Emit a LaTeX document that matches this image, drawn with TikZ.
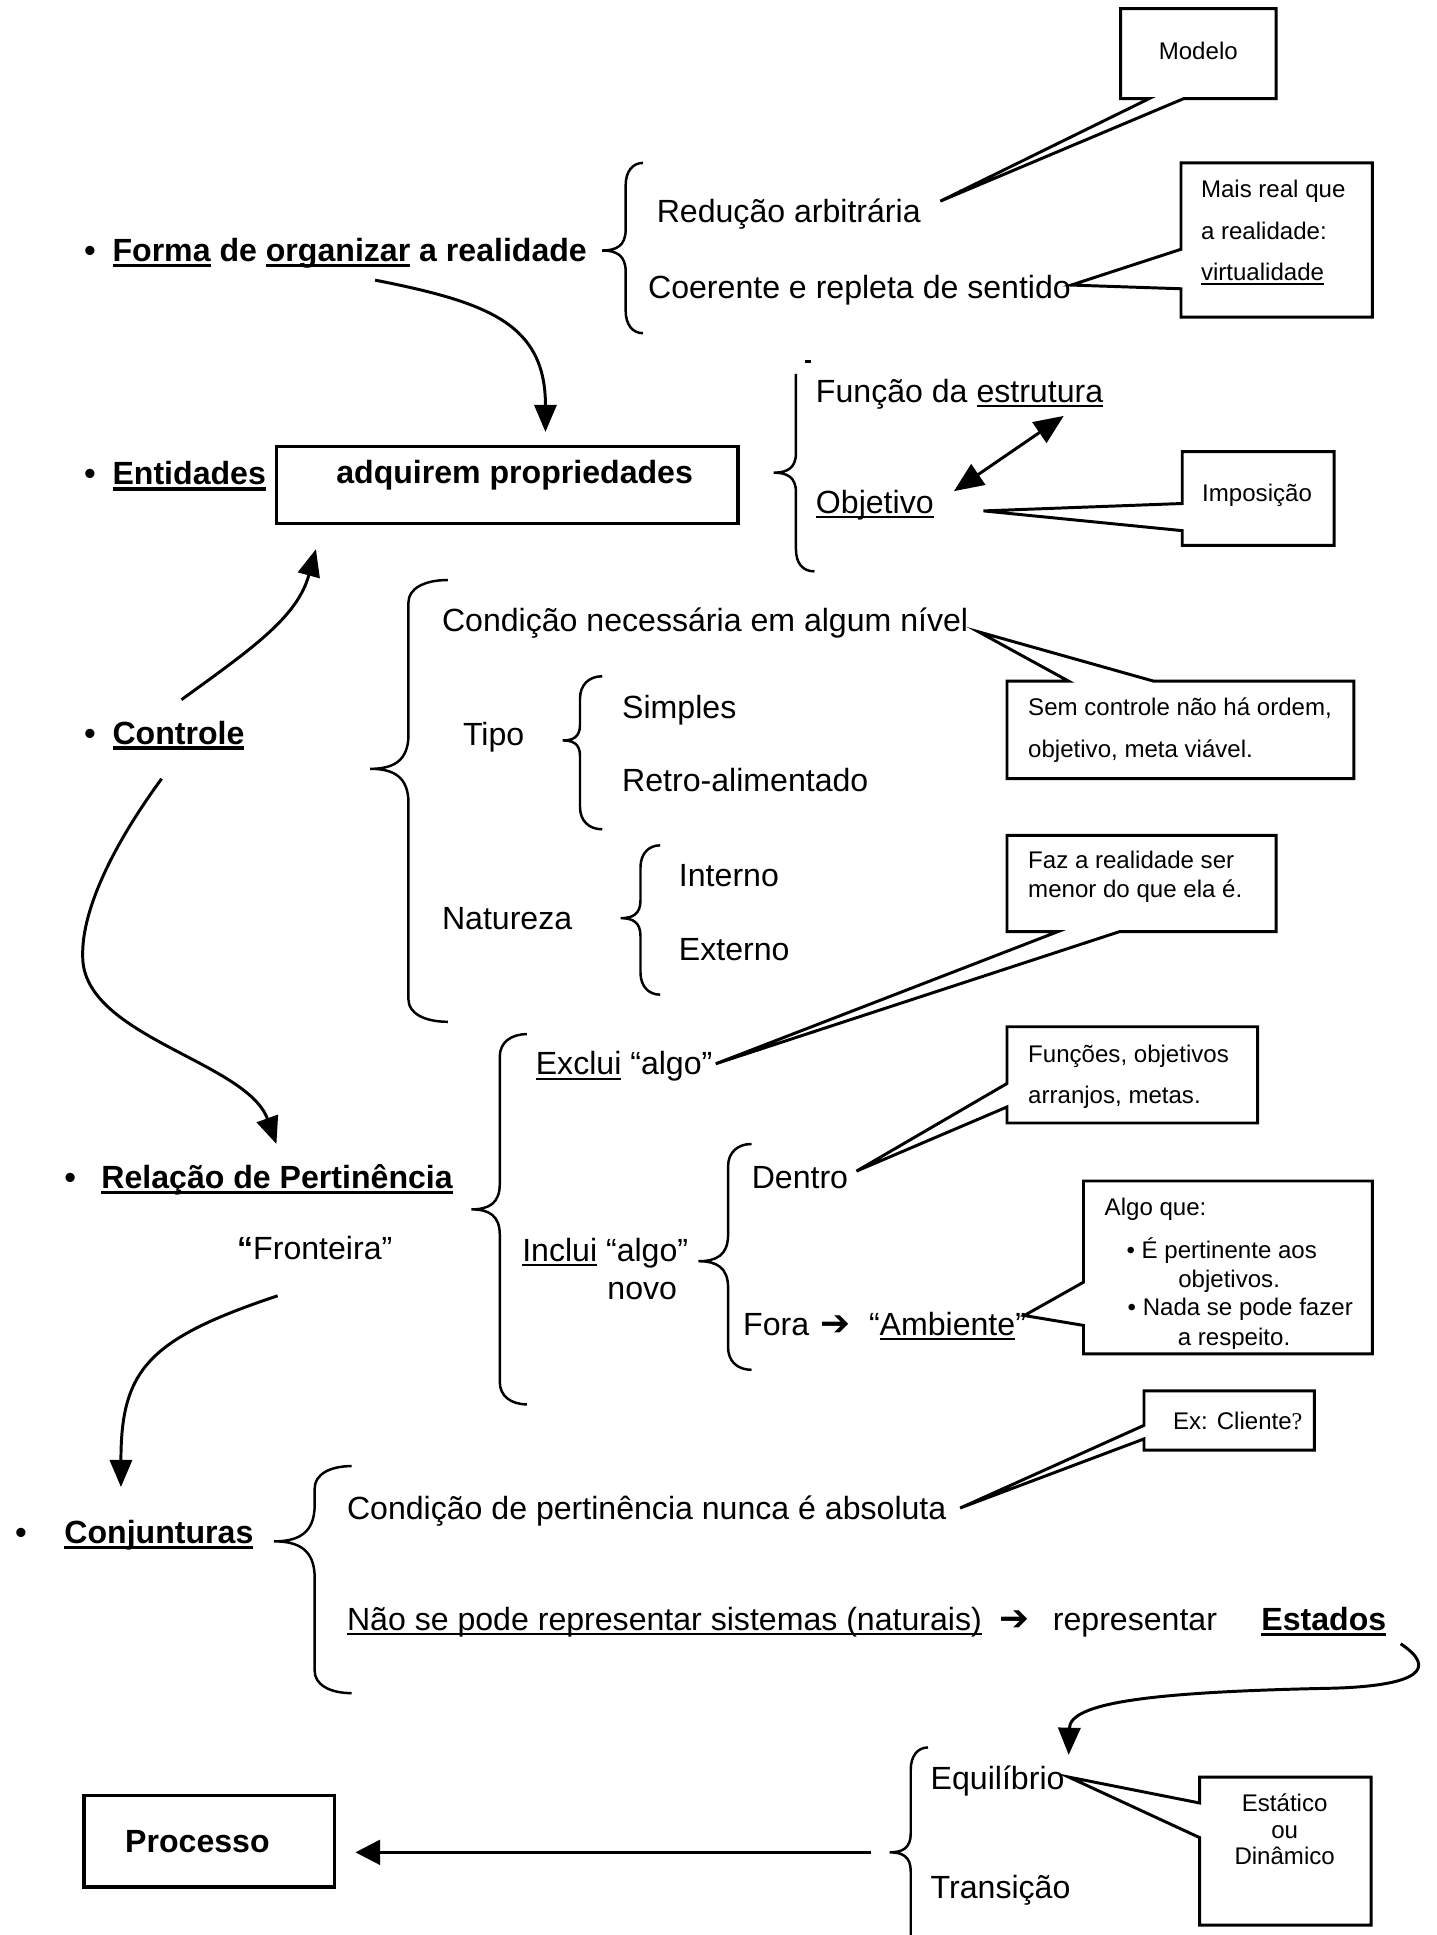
\documentclass[tikz,border=0pt]{standalone}
\usepackage{fontspec}
\setmainfont{Liberation Sans}
\newfontfamily\symfont{DejaVu Sans}
\newfontfamily\seriffont{Liberation Serif}
\usetikzlibrary{arrows.meta}

% underlines drawn as rules below the text
\newsavebox\ulbox
\newcommand\undl[1]{\sbox\ulbox{#1}\rlap{\rule[-4pt]{\wd\ulbox}{1.6pt}}\usebox\ulbox}
\newcommand\undlb[1]{\sbox\ulbox{#1}\rlap{\rule[-4.5pt]{\wd\ulbox}{2.6pt}}\usebox\ulbox}

% left curly brace: #1 x of the stem, #2 top y, #3 tip y, #4 bottom y, #5 tip x, #6 hook end x
\newcommand\drawbrace[6]{%
  \draw[brace] (#6,#2) .. controls ({#1+0.4*(#6-#1)},#2) and (#1,{#2+7}) .. (#1,{#2+18})
    -- (#1,{#3-0.9*(#1-#5)}) .. controls (#1,{#3-0.2*(#1-#5)}) and ({#1-0.4*(#1-#5)},#3) .. (#5,#3)
    .. controls ({#1-0.4*(#1-#5)},#3) and (#1,{#3+0.2*(#1-#5)}) .. (#1,{#3+0.9*(#1-#5)})
    -- (#1,{#4-18}) .. controls (#1,{#4-7}) and ({#1+0.4*(#6-#1)},#4) .. (#6,#4);}

\tikzset{
  txt/.style={anchor=base west, inner sep=0pt, font=\fontsize{26}{30}\selectfont},
  btxt/.style={anchor=base west, inner sep=0pt, font=\fontsize{26}{30}\selectfont\bfseries},
  stxt/.style={anchor=base west, inner sep=0pt, font=\fontsize{19.5}{23}\selectfont},
  symtxt/.style={anchor=base west, inner sep=0pt, font=\symfont\fontsize{29}{32}\selectfont},
  callout/.style={draw, line width=2.4pt, fill=white},
  brace/.style={line width=2pt},
  arr/.style={line width=2.4pt, -{Triangle[length=22pt,width=18pt]}},
  framebox/.style={draw, line width=2.6pt, inner sep=0pt},
}

\begin{document}
\begin{tikzpicture}[x=1pt, y=-1pt]
\useasboundingbox (0,0) rectangle (1164,1568);
\fill[white] (0,0) rectangle (1164,1568);
\clip (0,0) rectangle (1164,1568);

% ---------- pointer tips and arrow ends ----------
\coordinate (tipModelo) at (762,163);
\coordinate (tipVirt) at (868,231);
\coordinate (tipImp) at (797,414);
\coordinate (tipSem) at (793,512);
\coordinate (tipFaz) at (580,862);
\coordinate (tipFun) at (694,949);
\coordinate (tipAlgo) at (830,1066);
\coordinate (tipEx) at (778,1222);
\coordinate (tipEst) at (866,1440);

\coordinate (a1s) at (304,227);   \coordinate (a1e) at (442,350);
\coordinate (a2s) at (147,567);   \coordinate (a2e) at (256,445);
\coordinate (a3s) at (131,631);   \coordinate (a3e) at (224,927);
\coordinate (a4s) at (225,1050);  \coordinate (a4e) at (98,1205);
\coordinate (a5s) at (1135,1332); \coordinate (a5e) at (866,1422);
\coordinate (dbl1) at (773,398);  \coordinate (dbl2) at (862,337);
\coordinate (brtip) at (706,1501); \coordinate (procin) at (288,1501);

% ---------- callouts ----------
\draw[callout] (908,7) -- (1034,7) -- (1034,80) -- (959,80) -- (tipModelo) -- (931,80) -- (908,80) -- cycle;
\draw[callout] (957,132) -- (1112,132) -- (1112,257) -- (957,257) -- (957,234) -- (tipVirt) -- (957,202) -- cycle;
\draw[callout] (958,366) -- (1081,366) -- (1081,442) -- (958,442) -- (958,430) -- (tipImp) -- (958,408) -- cycle;
\draw[callout] (816,552) -- (866,552) -- (tipSem) -- (935,552) -- (1097,552) -- (1097,631) -- (816,631) -- cycle;
\draw[callout] (816,677) -- (1034,677) -- (1034,755) -- (907,755) -- (tipFaz) -- (857,755) -- (816,755) -- cycle;
\draw[callout] (816,832) -- (1019,832) -- (1019,910) -- (816,910) -- (816,897) -- (tipFun) -- (816,878) -- cycle;
\draw[callout] (878,957) -- (1112,957) -- (1112,1097) -- (878,1097) -- (878,1074) -- (tipAlgo) -- (878,1039) -- cycle;
\draw[callout] (927,1127) -- (1065,1127) -- (1065,1175) -- (927,1175) -- (927,1166) -- (tipEx) -- (927,1155) -- cycle;
\draw[callout] (972,1440) -- (1111,1440) -- (1111,1560) -- (972,1560) -- (972,1489) -- (tipEst) -- (972,1461) -- cycle;

\node[stxt, anchor=base] (modelo) at (971,48) {Modelo};
\node[stxt] (mr1) at (973,160) {Mais real que};
\node[stxt] (mr2) at (973,194) {a realidade:};
\node[stxt] (mr3) at (973,227) {\undl{virtualidade}};
\node[stxt] (imp) at (974,406) {Imposição};
\node[stxt] (sc1) at (833,580) {Sem controle não há ordem,};
\node[stxt] (sc2) at (833,614) {objetivo, meta viável.};
\node[stxt] (fz1) at (833,704) {Faz a realidade ser};
\node[stxt] (fz2) at (833,727) {menor do que ela é.};
\node[stxt] (fn1) at (833,861) {Funções, objetivos};
\node[stxt] (fn2) at (833,894) {arranjos, metas.};
\begin{scope}
  \clip (880,959) rectangle (1110,1093);
  \node[stxt] (aq0) at (895,985) {Algo que:};
  \node[stxt, anchor=base] (aq1) at (990,1020) {• É pertinente aos};
  \node[stxt, anchor=base] (aq2) at (996,1043) {objetivos.};
  \node[stxt, anchor=base] (aq3) at (1005,1066) {• Nada se pode fazer};
  \node[stxt, anchor=base] (aq4) at (1000,1090) {a respeito.};
\end{scope}
\node[stxt, anchor=base] (ex) at (1003,1158) {Ex: Cliente{\seriffont ?}};
\node[stxt, anchor=base] (es1) at (1041,1468) {Estático};
\node[stxt, anchor=base] (es2) at (1041,1490) {ou};
\node[stxt, anchor=base] (es3) at (1041,1511) {Dinâmico};

% ---------- braces ----------
\drawbrace{507}{132}{203}{270}{488}{521}
\draw[brace] (652,293) -- (657,293);
\draw[brace] (645,303) -- (645,367) .. controls (645,379.4) and (637.8,383) .. (627,383)
  .. controls (637.8,383) and (645,386.6) .. (645,399) -- (645,445)
  .. controls (645,456) and (650,463) .. (660,463);
\drawbrace{331}{470}{623}{828}{300}{363}
\drawbrace{470}{548}{600}{672}{456}{488}
\drawbrace{519}{685}{744}{806}{503}{535}
\drawbrace{405}{838}{980}{1138}{382}{427}
\drawbrace{590}{927}{1022}{1110}{566}{609}
\drawbrace{255}{1188}{1249}{1372}{222}{285}
\drawbrace{738}{1416}{1501}{1590}{721}{752}

% ---------- main texts ----------
\node[btxt, anchor=base] (b1) at (73,212) {•};
\node[btxt] (forma) at (91,212) {\undlb{Forma} de \undlb{organizar} a realidade};
\node[txt] (red) at (532,180) {Redução arbitrária};
\node[txt] (coer) at (525,242) {Coerente e repleta de sentido};

\node[btxt, anchor=base] (b2) at (73,393) {•};
\node[btxt] (ent) at (91,393) {\undlb{Entidades}};
\node[framebox, anchor=center, minimum width=374pt, text height=30pt, text depth=32pt,
      font=\fontsize{26}{30}\selectfont\bfseries] (prop) at (411,393) {\hspace*{12pt}adquirem propriedades};
\node[txt] (func) at (661,326) {Função da \undl{estrutura}};
\node[txt] (obj) at (661,416) {\undl{Objetivo}};

\node[btxt, anchor=base] (b3) at (73,603) {•};
\node[btxt] (ctrl) at (91,603) {\undlb{Controle}};
\node[txt] (cond) at (358,512) {Condição necessária em algum nível};
\node[txt] (tipo) at (375,604) {Tipo};
\node[txt] (simp) at (504,582) {Simples};
\node[txt] (retro) at (504,641) {Retro-alimentado};
\node[txt] (nat) at (358,753) {Natureza};
\node[txt] (int) at (550,718) {Interno};
\node[txt] (ext) at (550,778) {Externo};

\node[btxt, anchor=base] (b4) at (57,963) {•};
\node[btxt] (rel) at (82,963) {\undlb{Relação de Pertinência}};
\node[txt] (front) at (192,1021) {{\bfseries “}Fronteira”};
\node[txt] (excl) at (434,871) {\undl{Exclui} “algo”};
\node[txt] (incl) at (423,1022) {\undl{Inclui} “algo”};
\node[txt] (novo) at (492,1053) {novo};
\node[txt] (dentro) at (609,963) {Dentro};
\node[txt] (fora) at (602,1082) {Fora};
\node[symtxt] (foraarr) at (665,1082) {➔};
\node[txt] (amb) at (704,1082) {“\undl{Ambiente}”};

\node[btxt, anchor=base] (b5) at (17,1251) {•};
\node[btxt] (conj) at (52,1251) {\undlb{Conjunturas}};
\node[txt] (cpert) at (281,1231) {Condição de pertinência nunca é absoluta};
\node[txt] (nao) at (281,1321) {\undl{Não se pode representar sistemas (naturais)}};
\node[symtxt] (naoarr) at (810,1321) {➔};
\node[txt] (repr) at (853,1321) {representar};
\node[btxt] (est) at (1022,1321) {\undlb{Estados}};

\node[txt] (equi) at (754,1450) {Equilíbrio};
\node[txt] (trans) at (754,1538) {Transição};
\node[framebox, anchor=center, minimum width=203pt, minimum height=74pt,
      font=\fontsize{26}{30}\selectfont\bfseries] (proc) at (169.5,1492) {Processo\hspace*{19pt}};

% ---------- arrows ----------
\draw[arr] (a1s) .. controls (395,245) and (442,262) .. (a1e);
\draw[arr] (a2s) .. controls (205,525) and (241,500) .. (a2e);
\draw[arr] (a3s) .. controls (95,680) and (66,735) .. (67,775)
  .. controls (67,840) and (200,860) .. (a3e);
\draw[arr] (a4s) .. controls (120,1085) and (98,1110) .. (a4e);
\draw[arr] (a5s) .. controls (1165,1352) and (1150,1366) .. (1080,1368)
  .. controls (930,1371) and (867,1380) .. (a5e);
\draw[line width=2.4pt, -{Triangle[length=20pt,width=20pt]}] (brtip) -- (procin);
\draw[line width=2.4pt, {Triangle[length=24pt,width=20pt]}-{Triangle[length=24pt,width=20pt]}] (dbl1) -- (dbl2);
\end{tikzpicture}
\end{document}
